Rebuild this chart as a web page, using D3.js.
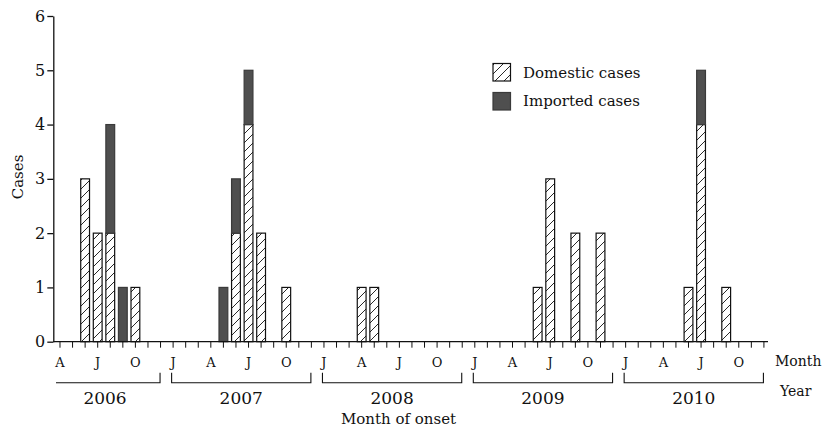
<!DOCTYPE html>
<html>
<head>
<meta charset="utf-8">
<script src="https://cdn.jsdelivr.net/npm/d3@7"></script>
<style>
  html, body { margin: 0; padding: 0; background: #ffffff; }
  svg { display: block; }
  text { font-family: "DejaVu Serif", "Liberation Serif", serif; fill: #111; }
</style>
</head>
<body>
<svg id="chart" width="823" height="428"></svg>
<script>
// ---- data ----
const barMonths = ["2006-06","2006-07","2006-08","2006-09","2006-10",
                   "2007-05","2007-06","2007-07","2007-08","2007-10",
                   "2008-04","2008-05",
                   "2009-06","2009-07","2009-09","2009-11",
                   "2010-06","2010-07","2010-09"];
const domestic = [3,2,2,0,1, 0,2,4,2,1, 1,1, 1,3,2,2, 1,4,1];
const imported = [0,0,2,1,0, 1,1,1,0,0, 0,0, 0,0,0,0, 0,1,0];
const years = [2006, 2007, 2008, 2009, 2010];
const monthTickIndex = [0, 3, 6, 9];
const monthTickLabels = ["J", "A", "J", "O"];
const yTicks = [0, 1, 2, 3, 4, 5, 6];
const seriesNames = ["Domestic cases", "Imported cases"];

// ---- categories (months April 2006 – December 2010) ----
const fmt = d3.timeFormat("%Y-%m");
const months = d3.timeMonth.range(new Date(2006, 3, 1), new Date(2011, 0, 1)).map(fmt);

const svg = d3.select("#chart");
const ink = "#111";

// hatch pattern
const defs = svg.append("defs");
const pat = defs.append("pattern")
  .attr("id", "hatch").attr("patternUnits", "userSpaceOnUse")
  .attr("width", 9).attr("height", 9);
pat.append("rect").attr("width", 9).attr("height", 9).attr("fill", "#fff");
pat.append("path").attr("d", "M-2,11 L11,-2 M-2,2 L2,-2 M7,11 L11,7")
  .attr("stroke", ink).attr("stroke-width", 0.9);

const x = d3.scaleBand().domain(months).range([53.7, 770.2])
  .paddingInner(0.3).paddingOuter(0.15);
const y = d3.scaleLinear().domain([0, 6]).range([341.7, 16]);

// bars
const stackData = barMonths.map((m, i) => ({ month: m, domestic: domestic[i], imported: imported[i] }));
const stack = d3.stack().keys(["domestic", "imported"])(stackData);
const fills = { domestic: "url(#hatch)", imported: "#4f4f4f" };
stack.forEach(layer => {
  svg.append("g").selectAll("rect")
    .data(layer.filter(d => d[1] > d[0]))
    .join("rect")
    .attr("x", d => x(d.data.month))
    .attr("y", d => y(d[1]))
    .attr("width", x.bandwidth())
    .attr("height", d => y(d[0]) - y(d[1]))
    .attr("fill", fills[layer.key])
    .attr("stroke", layer.key === "domestic" ? ink : "#3a3a3a")
    .attr("stroke-width", 1.2);
});

// y axis
const yAxis = svg.append("g").attr("transform", "translate(53.3,0)")
  .call(d3.axisLeft(y).tickValues(yTicks).tickSize(6).tickSizeOuter(0).tickPadding(2).tickFormat(d3.format("d")));
yAxis.selectAll("path, line").attr("stroke", ink).attr("stroke-width", 1.3);
yAxis.selectAll("text").attr("font-size", 16).attr("font-family", "DejaVu Serif").attr("fill", ink);

// x axis
const xAxis = svg.append("g").attr("transform", "translate(0,341.7)")
  .call(d3.axisBottom(x).tickSize(6).tickSizeOuter(0).tickFormat(""));
xAxis.select("path").attr("d", "M53.3,0H768").attr("stroke", ink).attr("stroke-width", 1.3);
xAxis.selectAll("line").attr("stroke", ink).attr("stroke-width", 1);

// month letters
const cx = m => x(m) + x.bandwidth() / 2;
const letterData = months.map((m, i) => ({ m, mi: +m.slice(5) - 1 }))
  .filter(d => monthTickIndex.includes(d.mi));
svg.append("g").selectAll("text").data(letterData).join("text")
  .attr("x", d => cx(d.m)).attr("y", 366.5)
  .attr("text-anchor", "middle").attr("font-size", 13)
  .text(d => monthTickLabels[monthTickIndex.indexOf(d.mi)]);

// year brackets
years.forEach((yr, i) => {
  const inYear = months.filter(m => +m.slice(0, 4) === yr);
  const first = inYear[0], last = inYear[inYear.length - 1];
  const x0 = cx(first) - (i === 0 ? 4 : 1.5);
  const x1 = cx(last) - 0.5;
  const p = i === 0 ? `M${x0},382.7H${x1}V372.7` : `M${x0},372.7V382.7H${x1}V372.7`;
  svg.append("path").attr("d", p).attr("fill", "none").attr("stroke", ink).attr("stroke-width", 1.1);
  svg.append("text").attr("x", (x0 + x1) / 2 - (i === 0 ? 3 : 0)).attr("y", 404)
    .attr("text-anchor", "middle").attr("font-size", 17).text(yr);
});

svg.append("text").attr("x", 775).attr("y", 366).attr("font-size", 14).text("Month");
svg.append("text").attr("x", 780).attr("y", 396).attr("font-size", 14).text("Year");
svg.append("text").attr("x", 398.5).attr("y", 424).attr("text-anchor", "middle").attr("font-size", 15).text("Month of onset");
svg.append("text").attr("transform", "translate(23,177) rotate(-90)")
  .attr("text-anchor", "middle").attr("font-size", 15).text("Cases");

// legend
const legend = svg.append("g");
[0, 1].forEach(i => {
  legend.append("rect").attr("x", 493).attr("y", 63.5 + i * 29).attr("width", 17.5).attr("height", 17.5)
    .attr("fill", i === 0 ? "url(#hatch)" : "#4f4f4f")
    .attr("stroke", i === 0 ? ink : "#3a3a3a").attr("stroke-width", 1.2);
  legend.append("text").attr("x", 523).attr("y", 77.7 + i * 28.5)
    .attr("font-size", 15).text(seriesNames[i]);
});
</script>
</body>
</html>
